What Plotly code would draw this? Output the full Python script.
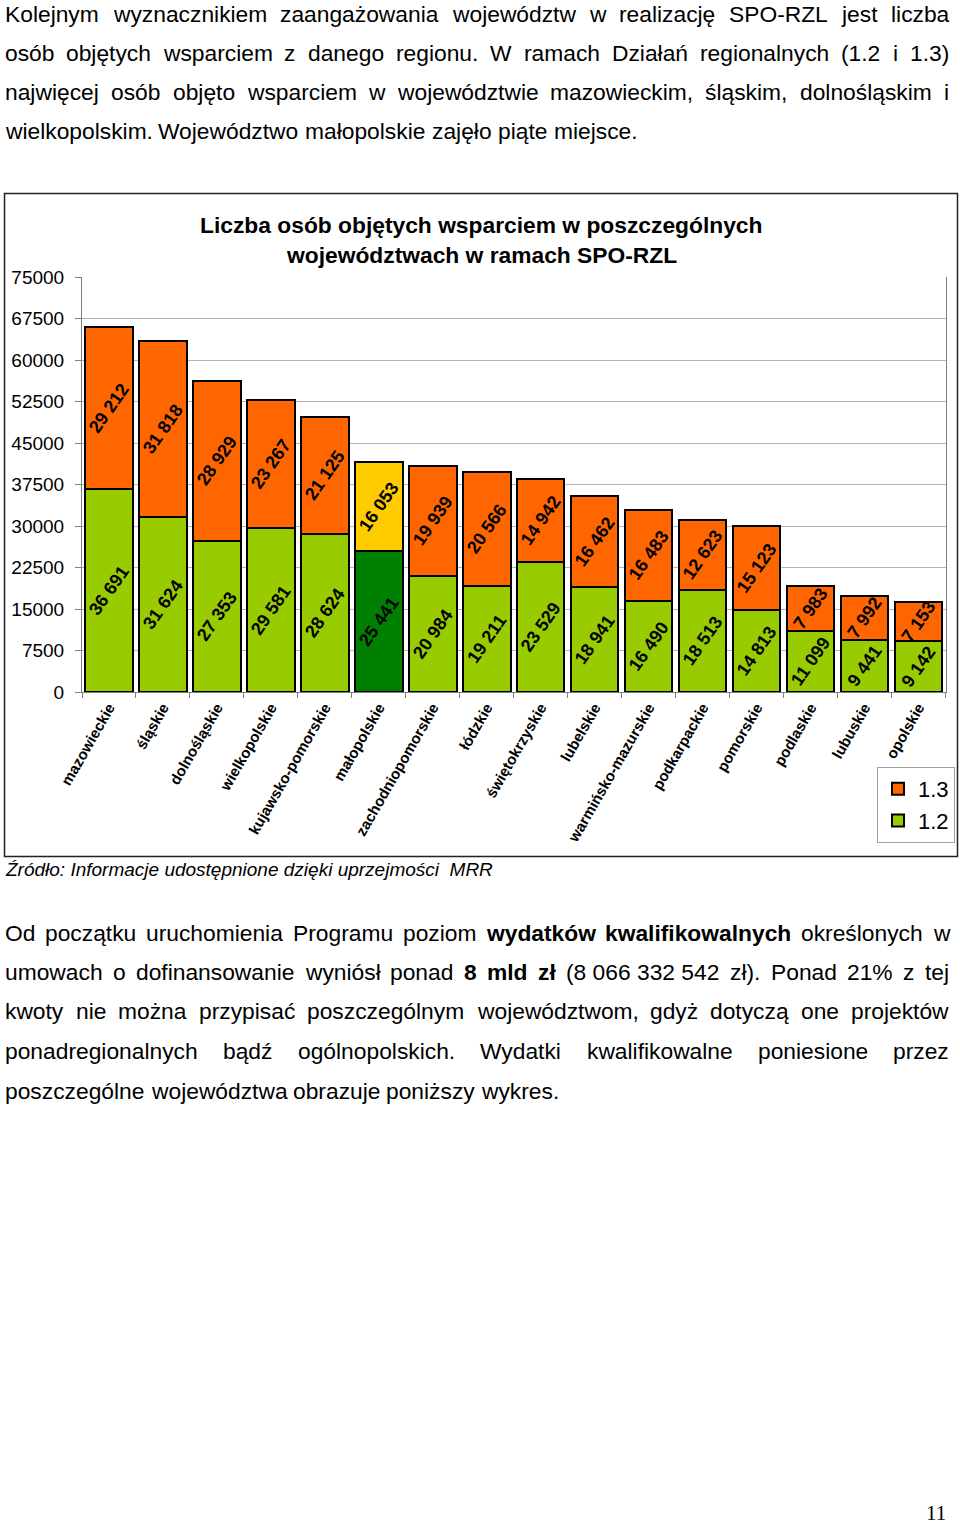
import plotly.graph_objects as go

# ---------------- data ----------------
regions = ["mazowieckie", "śląskie", "dolnośląskie", "wielkopolskie", "kujawsko-pomorskie",
           "małopolskie", "zachodniopomorskie", "łódzkie", "świętokrzyskie", "lubelskie",
           "warmińsko-mazurskie", "podkarpackie", "pomorskie", "podlaskie", "lubuskie", "opolskie"]
dz_12 = [36691, 31624, 27353, 29581, 28624, 25441, 20984, 19211, 23529, 18941,
         16490, 18513, 14813, 11099, 9441, 9142]
dz_13 = [29212, 31818, 28929, 23267, 21125, 16053, 19939, 20566, 14942, 16462,
         16483, 12623, 15123, 7983, 7992, 7153]
series_names = ["1.2", "1.3"]
y_ticks = [0, 7500, 15000, 22500, 30000, 37500, 45000, 52500, 60000, 67500, 75000]

title_lines = ["Liczba osób objętych wsparciem w poszczególnych",
               "województwach w ramach SPO-RZL"]
source_text = "Źródło: Informacje udostępnione dzięki uprzejmości  MRR"

para1 = [
    ("Kolejnym wyznacznikiem zaangażowania województw w realizację SPO-RZL jest liczba", True),
    ("osób objętych wsparciem z danego regionu. W ramach Działań regionalnych (1.2 i 1.3)", True),
    ("najwięcej osób objęto wsparciem w województwie mazowieckim, śląskim, dolnośląskim i", True),
    ("wielkopolskim. Województwo małopolskie zajęło piąte miejsce.", False),
]
para2 = [
    ("Od początku uruchomienia Programu poziom *wydatków *kwalifikowalnych określonych w", True),
    ("umowach o dofinansowanie wyniósł ponad *8 *mld *zł (8\u00a0066\u00a0332\u00a0542 zł). Ponad 21% z tej", True),
    ("kwoty nie można przypisać poszczególnym województwom, gdyż dotyczą one projektów", True),
    ("ponadregionalnych bądź ogólnopolskich. Wydatki kwalifikowalne poniesione przez", True),
    ("poszczególne województwa obrazuje poniższy wykres.", False),
]

# ---------------- colours ----------------
C_ORANGE = "#FF6600"
C_LGREEN = "#99CC00"
C_DGREEN = "#008000"
C_YELLOW = "#FFCC00"
col_12 = [C_DGREEN if r == "małopolskie" else C_LGREEN for r in regions]
col_13 = [C_YELLOW if r == "małopolskie" else C_ORANGE for r in regions]

W, H = 960, 1524
FONT = "Liberation Sans, Arial, sans-serif"


def px_x(x):
    return x / W


def px_y(y):
    return 1 - y / H


def fmt(v):
    return f"{v:,}".replace(",", " ")


fig = go.Figure()
for name, vals, cols in [(series_names[0], dz_12, col_12), (series_names[1], dz_13, col_13)]:
    fig.add_trace(go.Bar(
        name=name, x=regions, y=vals,
        marker=dict(color=cols, line=dict(color="black", width=2)),
        text=[fmt(v) for v in vals],
        textposition="inside", insidetextanchor="middle",
        textangle=-55, constraintext="none",
        insidetextfont=dict(family=FONT, size=18, color="black", weight="bold"),
        textfont=dict(family=FONT, size=18, color="black", weight="bold"),
        hoverinfo="skip",
    ))

# ---------------- text width metrics (Arial / Liberation Sans) ----------------
REG = {' ': 278, '\u00a0': 278, '.': 278, ',': 278, ':': 278, '-': 333, '(': 333, ')': 333, '%': 889}
for ch in "0123456789":
    REG[ch] = 556
REG.update(dict(zip("abcdefghijklmnopqrstuvwxyz",
                    [556, 556, 500, 556, 556, 278, 556, 556, 222, 222, 500, 222, 833, 556, 556, 556, 556,
                     333, 500, 278, 556, 500, 722, 500, 500, 500])))
REG.update(dict(zip("ABCDEFGHIJKLMNOPQRSTUVWXYZ",
                    [667, 667, 722, 722, 667, 611, 778, 722, 278, 500, 667, 556, 833, 722, 778, 667, 778,
                     722, 667, 611, 722, 667, 944, 667, 667, 611])))
REG.update({'ą': 556, 'ć': 500, 'ę': 556, 'ł': 222, 'ń': 556, 'ó': 556, 'ś': 500, 'ź': 500, 'ż': 500,
            'Ż': 611, 'Ź': 611, 'Ś': 667, 'Ł': 556})
BOLD = dict(REG)
BOLD.update(dict(zip("abcdefghijklmnopqrstuvwxyz",
                     [556, 611, 556, 611, 556, 333, 611, 611, 278, 278, 556, 278, 889, 611, 611, 611, 611,
                      389, 556, 333, 611, 556, 778, 556, 556, 500])))
BOLD.update({'ł': 278, 'ó': 611, 'ś': 556, 'ć': 556, 'ń': 611})


def text_w(s, size, bold=False):
    tab = BOLD if bold else REG
    return sum(tab.get(c, 556) for c in s) * size / 1000.0


annotations = []


def add_lines(lines, y0, step, size=22.8, x0=4, x1=948):
    for i, (line, justify) in enumerate(lines):
        y = y0 + i * step
        toks = []
        for t in line.split(" "):
            bold = t.startswith("*")
            toks.append((t.lstrip("*"), bold))
        widths = [text_w(t, size, b) for t, b in toks]
        if justify and len(toks) > 1:
            gap = (x1 - x0 - sum(widths)) / (len(toks) - 1)
        else:
            gap = text_w(" ", size)
        x = x0
        for (t, b), w in zip(toks, widths):
            txt = f"<b>{t}</b>" if b else t
            annotations.append(dict(
                text=txt, x=px_x(x), y=px_y(y), xref="paper", yref="paper",
                xanchor="left", yanchor="top", showarrow=False, borderpad=0,
                font=dict(family=FONT, size=size, color="black")))
            x += w + gap


add_lines(para1, 0, 39.0)
add_lines(para2, 918.5, 39.5)

# chart title
for i, t in enumerate(title_lines):
    annotations.append(dict(
        text=f"<b>{t}</b>", x=px_x(481), y=px_y(225 + i * 29.5), xref="paper", yref="paper",
        xanchor="center", yanchor="middle", showarrow=False,
        font=dict(family=FONT, size=22.8, color="black")))

# source
annotations.append(dict(
    text=f"<i>{source_text}</i>", x=px_x(4), y=px_y(869), xref="paper", yref="paper",
    xanchor="left", yanchor="middle", showarrow=False, borderpad=0,
    font=dict(family=FONT, size=19, color="black")))

# page number
annotations.append(dict(
    text="11", x=px_x(948), y=px_y(1513), xref="paper", yref="paper",
    xanchor="right", yanchor="middle", showarrow=False,
    font=dict(family="Liberation Serif, Times New Roman, serif", size=21, color="black")))

shapes = [dict(type="rect", xref="paper", yref="paper",
               x0=px_x(4.5), x1=px_x(957.5), y0=px_y(856.5), y1=px_y(193.5),
               line=dict(color="#222222", width=1.5), fillcolor="rgba(0,0,0,0)", layer="below")]

fig.update_layout(
    width=W, height=H,
    margin=dict(l=0, r=0, t=0, b=0, pad=0, autoexpand=False),
    paper_bgcolor="white", plot_bgcolor="white",
    barmode="stack", bargap=0.12,
    font=dict(family=FONT, color="black"),
    annotations=annotations, shapes=shapes,
    showlegend=True,
    legend=dict(x=px_x(877), y=px_y(767), xanchor="left", yanchor="top",
                traceorder="reversed", bgcolor="white", bordercolor="#A0A0A0", borderwidth=1,
                font=dict(family=FONT, size=22, color="black"),
                itemwidth=30, tracegroupgap=0),
    xaxis=dict(domain=[px_x(82), px_x(945.5)], type="category",
               showline=True, linecolor="#808080", linewidth=1, mirror=False,
               ticks="outside", tickson="boundaries", ticklen=5, tickcolor="#808080",
               tickangle=-60, showgrid=False,
               tickfont=dict(family=FONT, size=15, color="black", weight="bold")),
    yaxis=dict(domain=[px_y(692), px_y(277)], range=[0, 75000],
               tickmode="array", tickvals=y_ticks, ticktext=[str(v) for v in y_ticks],
               showline=True, linecolor="#808080", linewidth=1, mirror=True,
               ticks="outside", ticklen=6, tickcolor="#808080", ticklabelstandoff=7,
               showgrid=True, gridcolor="#B4B4B4", gridwidth=1, zeroline=False,
               tickfont=dict(family=FONT, size=19, color="black")),
)

fig.write_html("out.html", config={"displayModeBar": False},
               post_script="document.body.style.margin='0';document.body.style.overflow='hidden';")
